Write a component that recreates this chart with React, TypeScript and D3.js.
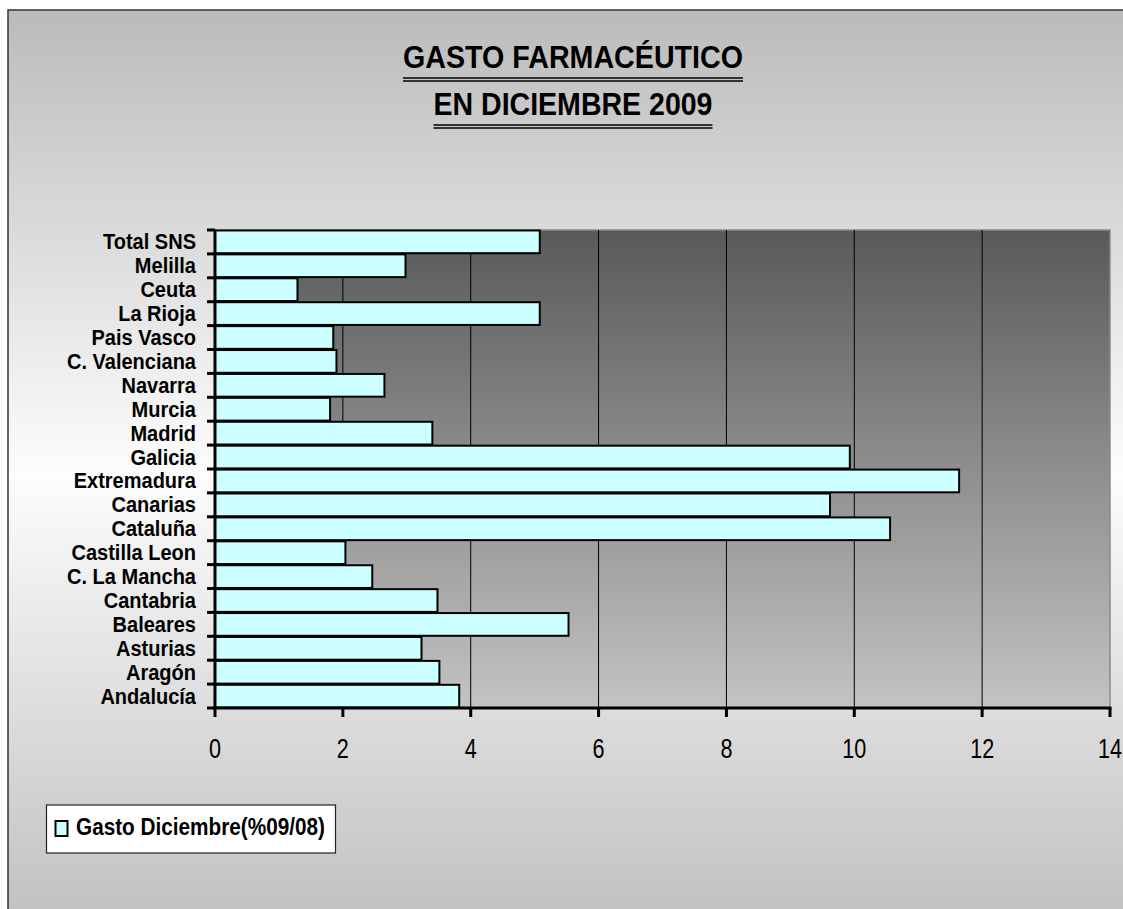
import React from 'react';
import * as d3 from 'd3';

// regions, listed bottom to top as in the chart
const regions = [
  'Andalucía', 'Aragón', 'Asturias', 'Baleares', 'Cantabria', 'C. La Mancha',
  'Castilla Leon', 'Cataluña', 'Canarias', 'Extremadura', 'Galicia', 'Madrid',
  'Murcia', 'Navarra', 'C. Valenciana', 'Pais Vasco', 'La Rioja', 'Ceuta',
  'Melilla', 'Total SNS',
];
const gasto = [
  3.82, 3.51, 3.23, 5.53, 3.48, 2.46,
  2.04, 10.56, 9.62, 11.64, 9.93, 3.40,
  1.80, 2.65, 1.90, 1.85, 5.08, 1.29,
  2.98, 5.08,
];
const xTicks = [0, 2, 4, 6, 8, 10, 12, 14];
const titleLines = ['GASTO FARMACÉUTICO', 'EN DICIEMBRE 2009'];
const legendLabel = 'Gasto Diciembre(%09/08)';

const W = 1123;
const H = 909;
const plot = { left: 215, right: 1110, top: 230, bottom: 708 };
const font = '"Liberation Sans", Arial, sans-serif';

export default function App() {
  const x = d3.scaleLinear().domain([0, 14]).range([plot.left, plot.right]);
  const y = d3.scaleBand<string>()
    .domain([...regions].reverse())
    .range([plot.top, plot.bottom])
    .paddingInner(0.05)
    .paddingOuter(0.02);
  const step = (plot.bottom - plot.top) / regions.length;
  const boundaries = d3.range(regions.length + 1).map(i => plot.top + i * step);

  return (
    <svg width={W} height={H} style={{ position: 'absolute', left: 0, top: 0 }} fontFamily={font}>
      <defs>
        <linearGradient id="outer-bg" x1="0" y1="0" x2="0" y2="1">
          <stop offset="0%" stopColor="#bbbbbb" />
          <stop offset="50%" stopColor="#fdfdfd" />
          <stop offset="100%" stopColor="#bebebe" />
        </linearGradient>
        <linearGradient id="plot-bg" x1="0" y1="0" x2="0" y2="1">
          <stop offset="0%" stopColor="#595959" />
          <stop offset="100%" stopColor="#c3c3c3" />
        </linearGradient>
      </defs>
      <rect width={W} height={H} fill="#ffffff" />
      <rect x={8} y={10} width={W + 20} height={H + 20} fill="url(#outer-bg)" stroke="#333333" strokeWidth={1.5} />

      {/* title */}
      {titleLines.map((t, i) => {
        const base = 68 + i * 47;
        const len = i === 0 ? 340 : 279;
        return (
          <g key={t}>
            <text x={573} y={base} textAnchor="middle" fontSize={30.5} fontWeight="bold"
              textLength={len} lengthAdjust="spacingAndGlyphs">{t}</text>
            <line x1={573 - len / 2} x2={573 + len / 2} y1={base + 10} y2={base + 10} stroke="#000" strokeWidth={1.6} />
            <line x1={573 - len / 2} x2={573 + len / 2} y1={base + 13} y2={base + 13} stroke="#000" strokeWidth={1.6} />
          </g>
        );
      })}

      {/* plot area */}
      <rect x={plot.left} y={plot.top} width={plot.right - plot.left} height={plot.bottom - plot.top}
        fill="url(#plot-bg)" stroke="#8a8a8a" strokeWidth={1.5} />
      {xTicks.slice(1, -1).map(t => (
        <line key={t} x1={x(t)} x2={x(t)} y1={plot.top} y2={plot.bottom} stroke="#000" strokeWidth={1} />
      ))}

      {/* bars */}
      {regions.map((r, i) => (
        <rect key={r} x={x(0)} y={y(r)!} width={x(gasto[i]) - x(0)} height={y.bandwidth()}
          fill="#ccffff" stroke="#000" strokeWidth={2} />
      ))}

      {/* category axis */}
      <line x1={plot.left} x2={plot.left} y1={plot.top} y2={plot.bottom + 1} stroke="#000" strokeWidth={3} />
      {boundaries.map((b, i) => (
        <line key={i} x1={plot.left - 8} x2={plot.left} y1={b} y2={b} stroke="#000" strokeWidth={3} />
      ))}
      {regions.map(r => (
        <text key={r} transform={`translate(196,${y(r)! + y.bandwidth() / 2 + 7.5}) scale(0.91,1)`}
          textAnchor="end" fontSize={22} fontWeight="bold">{r}</text>
      ))}

      {/* value axis */}
      <line x1={plot.left - 1.5} x2={plot.right + 1.5} y1={plot.bottom} y2={plot.bottom} stroke="#000" strokeWidth={3} />
      {xTicks.map(t => (
        <g key={t}>
          <line x1={x(t)} x2={x(t)} y1={plot.bottom} y2={plot.bottom + 9} stroke="#000" strokeWidth={3} />
          <text transform={`translate(${x(t)},758) scale(0.8,1)`} textAnchor="middle" fontSize={27}>{t}</text>
        </g>
      ))}

      {/* legend */}
      <rect x={46.5} y={805} width={289} height={48} fill="#ffffff" stroke="#222" strokeWidth={1.2} />
      <rect x={55.5} y={821} width={12} height={15} fill="#ccffff" stroke="#000" strokeWidth={2} />
      <text x={76} y={835} fontSize={23.5} fontWeight="bold" textLength={249} lengthAdjust="spacingAndGlyphs">{legendLabel}</text>
    </svg>
  );
}
